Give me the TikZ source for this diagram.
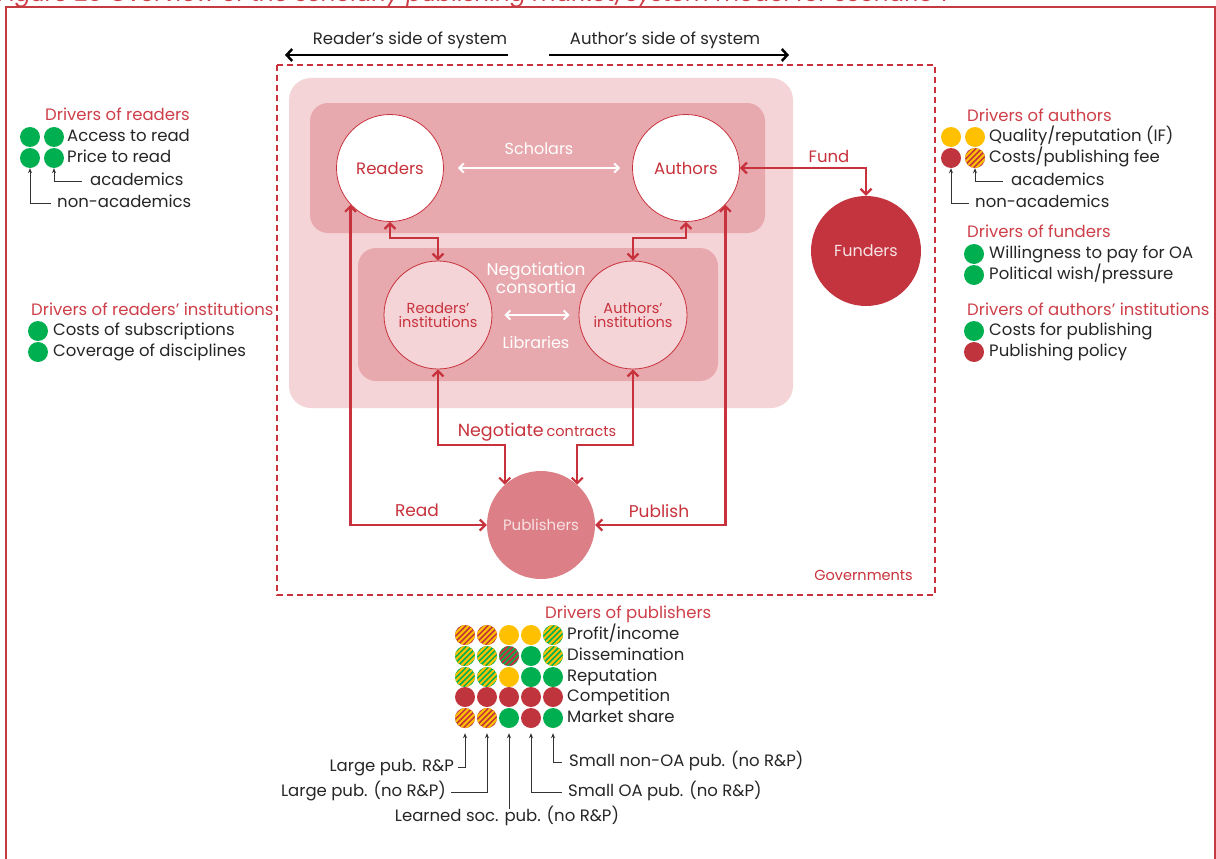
\documentclass[tikz,border=0pt]{standalone}
\usepackage{fontspec}
\setmainfont{Poppins}
\usetikzlibrary{arrows.meta,calc}
\definecolor{cred}{HTML}{C8323C}
\definecolor{hred}{HTML}{CE3F49}
\definecolor{pinkA}{HTML}{F4D4D7}
\definecolor{pinkB}{HTML}{E8A9AE}
\definecolor{fundc}{HTML}{C3343F}
\definecolor{pubc}{HTML}{DC7F86}
\definecolor{dgreen}{HTML}{00B050}
\definecolor{dyellow}{HTML}{FFC000}
\definecolor{dred}{HTML}{C0343D}
\definecolor{frame}{HTML}{C43C42}
\definecolor{ltxt}{HTML}{F8E2E4}
\tikzset{
  fs/.style={font=\fontsize{#1}{#1}\selectfont},
  txt/.style={anchor=west, inner sep=0pt, text height=12pt, text depth=3pt, fs=16.5, text=black!85},
  head/.style={txt, text=hred},
  dot/.style={circle, fill=#1, minimum size=20pt, inner sep=0pt},
  hdot/.style 2 args={circle, minimum size=20pt, inner sep=0pt, fill=#1,
    path picture={\foreach \k in {-3,...,3}{\draw[#2, line width=2.1pt]
      ([xshift=\k*5.6pt-13pt, yshift=-13pt]path picture bounding box.center) -- ++(26pt,26pt);}}},
  ptr/.style={black!80, line width=0.9pt, -{Stealth[length=5pt,width=4pt]}},
  conn/.style={cred, line width=2.2pt, {Straight Barb[length=5.5pt,width=11pt]}-{Straight Barb[length=5.5pt,width=11pt]}},
  wconn/.style={white, line width=2pt, {Straight Barb[length=4.5pt,width=9pt]}-{Straight Barb[length=4.5pt,width=9pt]}},
  topar/.style={black, line width=2.5pt, -{Straight Barb[length=5.5pt,width=12pt]}},
  bigc/.style={circle, minimum size=107pt, inner sep=0pt, align=center},
}
\begin{document}
\begin{tikzpicture}[x=1pt,y=-1pt]
\useasboundingbox (0,0) rectangle (1216,859);
\fill[white] (0,0) rectangle (1216,859);
\begin{scope}
\clip (0,0) rectangle (1216,859);
\node[anchor=base west, inner sep=0pt, text=hred, font=\fontsize{23}{23}\selectfont\itshape] (title) at (-2,2)
  {Figure 25 Overview of the scholarly publishing market/system model for scenario 1};
\draw[frame, line width=2pt] (6,7) rectangle (1215,900);
\end{scope}

% top arrows
\node[fs=16.5, inner sep=0pt, text=black!85] (rside) at (410,40) {Reader’s side of system};
\node[fs=16.5, inner sep=0pt, text=black!85] (aside) at (665,40) {Author’s side of system};
\coordinate (rs1) at (508,55); \coordinate (rs2) at (285,55);
\coordinate (as1) at (549,55); \coordinate (as2) at (789,55);
\draw[topar] (rs1) -- (rs2);
\draw[topar] (as1) -- (as2);

% governments
\draw[cred, line width=1.2pt, dash pattern=on 6pt off 4pt] (277,65) rectangle (935,595);
\node[fs=14.5, text=cred, inner sep=0pt, anchor=east] (gov) at (913,575) {Governments};

% boxes
\fill[pinkA, rounded corners=22pt] (289,78) rectangle (793,408);
\fill[pinkB, rounded corners=18pt] (310,103) rectangle (765,233);
\fill[pinkB, rounded corners=18pt] (358,248) rectangle (718,381);

% main nodes
\node[bigc, draw=cred, line width=0.8pt, fill=white, text=cred, fs=16.5] (R) at (390,168) {Readers};
\node[bigc, draw=cred, line width=0.8pt, fill=white, text=cred, fs=16.5] (A) at (686,168) {Authors};
\node[bigc, draw=cred, line width=0.8pt, fill=pinkA, text=cred, fs=14.5, minimum size=108pt] (RI) at (438,315) {Readers’\\[0pt]institutions};
\node[bigc, draw=cred, line width=0.8pt, fill=pinkA, text=cred, fs=14.5, minimum size=108pt] (AI) at (633,315) {Authors’\\[0pt]institutions};
\node[bigc, fill=fundc, text=ltxt, fs=16, minimum size=110pt] (F) at (866,251) {Funders};
\node[bigc, fill=pubc, text=ltxt, fs=15, minimum size=108pt] (P) at (541,525) {Publishers};

% white texts
\node[fs=16, text=white, inner sep=0pt] (sch) at (539,149) {Scholars};
\draw[wconn, shorten <=14pt, shorten >=12pt] (R) -- (A);
\node[fs=17, text=white, inner sep=0pt, align=center] (neg) at (536,278) {Negotiation\\[-1pt]consortia};
\node[fs=16, text=white, inner sep=0pt] (lib) at (536,342) {Libraries};
\draw[wconn, shorten <=12pt, shorten >=9pt] (RI) -- (AI);

% connectors
\draw[conn] (A.east) -| (F.north);
\node[fs=16.5, text=cred, inner sep=0pt] (fundl) at (829,156) {Fund};
\draw[conn] (R.south) -- ++(0,16) -| (RI.north);
\draw[conn] (A.south) -- ++(0,16) -| (AI.north);
\draw[conn] (R.223) |- (P.west);
\draw[conn] (A.317) |- (P.east);
\draw[conn] (RI.south) |- ($(P.132)+(0,-40)$) -- (P.132);
\draw[conn] (AI.south) |- ($(P.48)+(0,-40)$) -- (P.48);
\node[fs=17, text=cred, inner sep=0pt] (readl) at (417,510) {Read};
\node[fs=17, text=cred, inner sep=0pt] (publ) at (659,511) {Publish};
\node[fs=17.5, text=cred, inner sep=0pt] (negl) at (537,432) {Negotiate\,{\fontsize{14.5}{14.5}\selectfont contracts}};

% drivers of readers
\node[head] (hr) at (45,116) {Drivers of readers};
\node[dot=dgreen] (r11) at (30,137) {};
\node[dot=dgreen] (r12) at (54,137) {};
\node[dot=dgreen] (r21) at (30,158) {};
\node[dot=dgreen] (r22) at (54,158) {};
\node[txt] (tr1) at (67,137) {Access to read};
\node[txt] (tr2) at (67,158) {Price to read};
\node[txt] (racad) at (90,181) {academics};
\node[txt] (rnon) at (57,203) {non-academics};
\draw[ptr] ([xshift=-8pt]racad.west) -| (r22);
\draw[ptr] ([xshift=-6pt]rnon.west) -| (r21);

% drivers of readers' institutions
\node[head] (hri) at (31,311) {Drivers of readers’ institutions};
\node[dot=dgreen] (ri1) at (38,331) {};
\node[dot=dgreen] (ri2) at (38,352) {};
\node[txt] at (53,331) {Costs of subscriptions};
\node[txt] at (53,352) {Coverage of disciplines};

% drivers of authors
\node[head] (ha) at (967,117) {Drivers of authors};
\node[dot=dyellow] (a11) at (951,137) {};
\node[dot=dyellow] (a12) at (975,137) {};
\node[dot=dred] (a21) at (951,158) {};
\node[hdot={dred}{dyellow}] (a22) at (975,158) {};
\node[txt] at (989,137) {Quality/reputation (IF)};
\node[txt] at (989,158) {Costs/publishing fee};
\node[txt] (aacad) at (1011,181) {academics};
\node[txt] (anon) at (975,203) {non-academics};
\draw[ptr] ([xshift=-8pt]aacad.west) -| (a22);
\draw[ptr] ([xshift=-6pt]anon.west) -| (a21);

% drivers of funders
\node[head] (hf) at (967,233) {Drivers of funders};
\node[dot=dgreen] (f1) at (974,254) {};
\node[dot=dgreen] (f2) at (974,275) {};
\node[txt] at (989,254) {Willingness to pay for OA};
\node[txt] at (989,275) {Political wish/pressure};

% drivers of authors' institutions
\node[head] (hai) at (967,311) {Drivers of authors’ institutions};
\node[dot=dgreen] (ai1) at (974,331) {};
\node[dot=dred] (ai2) at (974,352) {};
\node[txt] at (989,331) {Costs for publishing};
\node[txt] at (989,352) {Publishing policy};

% drivers of publishers
\node[head] (hp) at (545,614) {Drivers of publishers};
% row 1
\node[hdot={dred}{dyellow}] (p11) at (465,635) {};
\node[hdot={dred}{dyellow}] (p12) at (487,635) {};
\node[dot=dyellow] (p13) at (509,635) {};
\node[dot=dyellow] (p14) at (531,635) {};
\node[hdot={dgreen}{dyellow}] (p15) at (553,635) {};
% row 2
\node[hdot={dgreen}{dyellow}] (p21) at (465,656) {};
\node[hdot={dgreen}{dyellow}] (p22) at (487,656) {};
\node[hdot={dgreen}{dred}] (p23) at (509,656) {};
\node[dot=dgreen] (p24) at (531,656) {};
\node[hdot={dgreen}{dyellow}] (p25) at (553,656) {};
% row 3
\node[hdot={dgreen}{dyellow}] (p31) at (465,677) {};
\node[hdot={dgreen}{dyellow}] (p32) at (487,677) {};
\node[dot=dyellow] (p33) at (509,677) {};
\node[dot=dgreen] (p34) at (531,677) {};
\node[dot=dgreen] (p35) at (553,677) {};
% row 4
\node[dot=dred] (p41) at (465,697) {};
\node[dot=dred] (p42) at (487,697) {};
\node[dot=dred] (p43) at (509,697) {};
\node[dot=dred] (p44) at (531,697) {};
\node[dot=dred] (p45) at (553,697) {};
% row 5
\node[hdot={dred}{dyellow}] (p51) at (465,718) {};
\node[hdot={dred}{dyellow}] (p52) at (487,718) {};
\node[dot=dgreen] (p53) at (509,718) {};
\node[dot=dred] (p54) at (531,718) {};
\node[dot=dgreen] (p55) at (553,718) {};
\node[txt] at (567,635) {Profit/income};
\node[txt] at (567,656) {Dissemination};
\node[txt] at (567,677) {Reputation};
\node[txt] at (567,697) {Competition};
\node[txt] at (567,718) {Market share};

\node[txt, anchor=east] (lp1) at (454,767) {Large pub. R\&P};
\node[txt, anchor=east] (lp2) at (446,792) {Large pub. (no R\&P)};
\node[txt, anchor=center] (ls) at (507,817) {Learned soc. pub. (no R\&P)};
\node[txt] (soa) at (568,792) {Small OA pub. (no R\&P)};
\node[txt] (snoa) at (569,762) {Small non-OA pub. (no R\&P)};
\draw[ptr] ([xshift=4pt]lp1.east) -| ([yshift=-5pt]p51.south);
\draw[ptr] ([xshift=5pt]lp2.east) -| ([yshift=-5pt]p52.south);
\draw[ptr] (p53 |- ls.north) -- ([yshift=-5pt]p53.south);
\draw[ptr] ([xshift=-6pt]soa.west) -| ([yshift=-5pt]p54.south);
\draw[ptr] ([xshift=-7pt]snoa.west) -| ([yshift=-5pt]p55.south);
\end{tikzpicture}
\end{document}
